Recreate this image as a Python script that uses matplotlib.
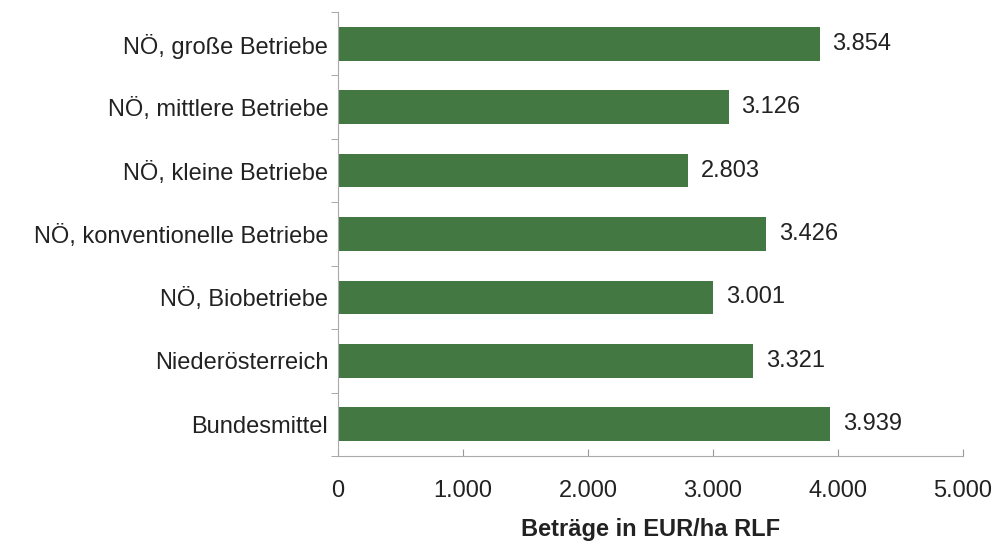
import matplotlib.pyplot as plt
from matplotlib.ticker import FuncFormatter, FixedLocator

plt.rcParams['font.family'] = ['Liberation Sans', 'DejaVu Sans']

categories = ['NÖ, große Betriebe', 'NÖ, mittlere Betriebe', 'NÖ, kleine Betriebe',
              'NÖ, konventionelle Betriebe', 'NÖ, Biobetriebe', 'Niederösterreich',
              'Bundesmittel']
values = [3854, 3126, 2803, 3426, 3001, 3321, 3939]

def de_fmt(v, pos=None):
    return f'{int(v):,}'.replace(',', '.')

fig = plt.figure(figsize=(9.97, 5.48), dpi=100)
ax = fig.add_axes([0.339, 0.168, 0.627, 0.810])

pos = list(range(len(categories)))[::-1]
ax.barh(pos, values, height=0.53, color='#437843')
for p, v in zip(pos, values):
    ax.text(v + 100, p, de_fmt(v), va='center', ha='left', fontsize=17, color='#222222')

ax.set_xlim(0, 5000)
ax.set_ylim(-0.5, len(categories) - 0.5)
ax.set_xticks(range(0, 5001, 1000))
ax.xaxis.set_major_formatter(FuncFormatter(de_fmt))
ax.set_yticks(pos)
ax.set_yticklabels(categories)
ax.yaxis.set_minor_locator(FixedLocator([p + 0.5 for p in range(-1, len(categories))]))
ax.tick_params(axis='y', which='major', length=0, pad=7, labelsize=17, labelcolor='#222222')
ax.tick_params(axis='y', which='minor', length=5, color='#999999', direction='out')
ax.tick_params(axis='x', direction='in', length=5, color='#999999', labelsize=17,
               pad=17, labelcolor='#222222')

for s in ['top', 'right']:
    ax.spines[s].set_visible(False)
for s in ['left', 'bottom']:
    ax.spines[s].set_color('#aaaaaa')

ax.set_xlabel('Beträge in EUR/ha RLF', fontweight='bold', fontsize=17, labelpad=12,
              color='#222222')

fig.savefig('out.png', dpi=100)
